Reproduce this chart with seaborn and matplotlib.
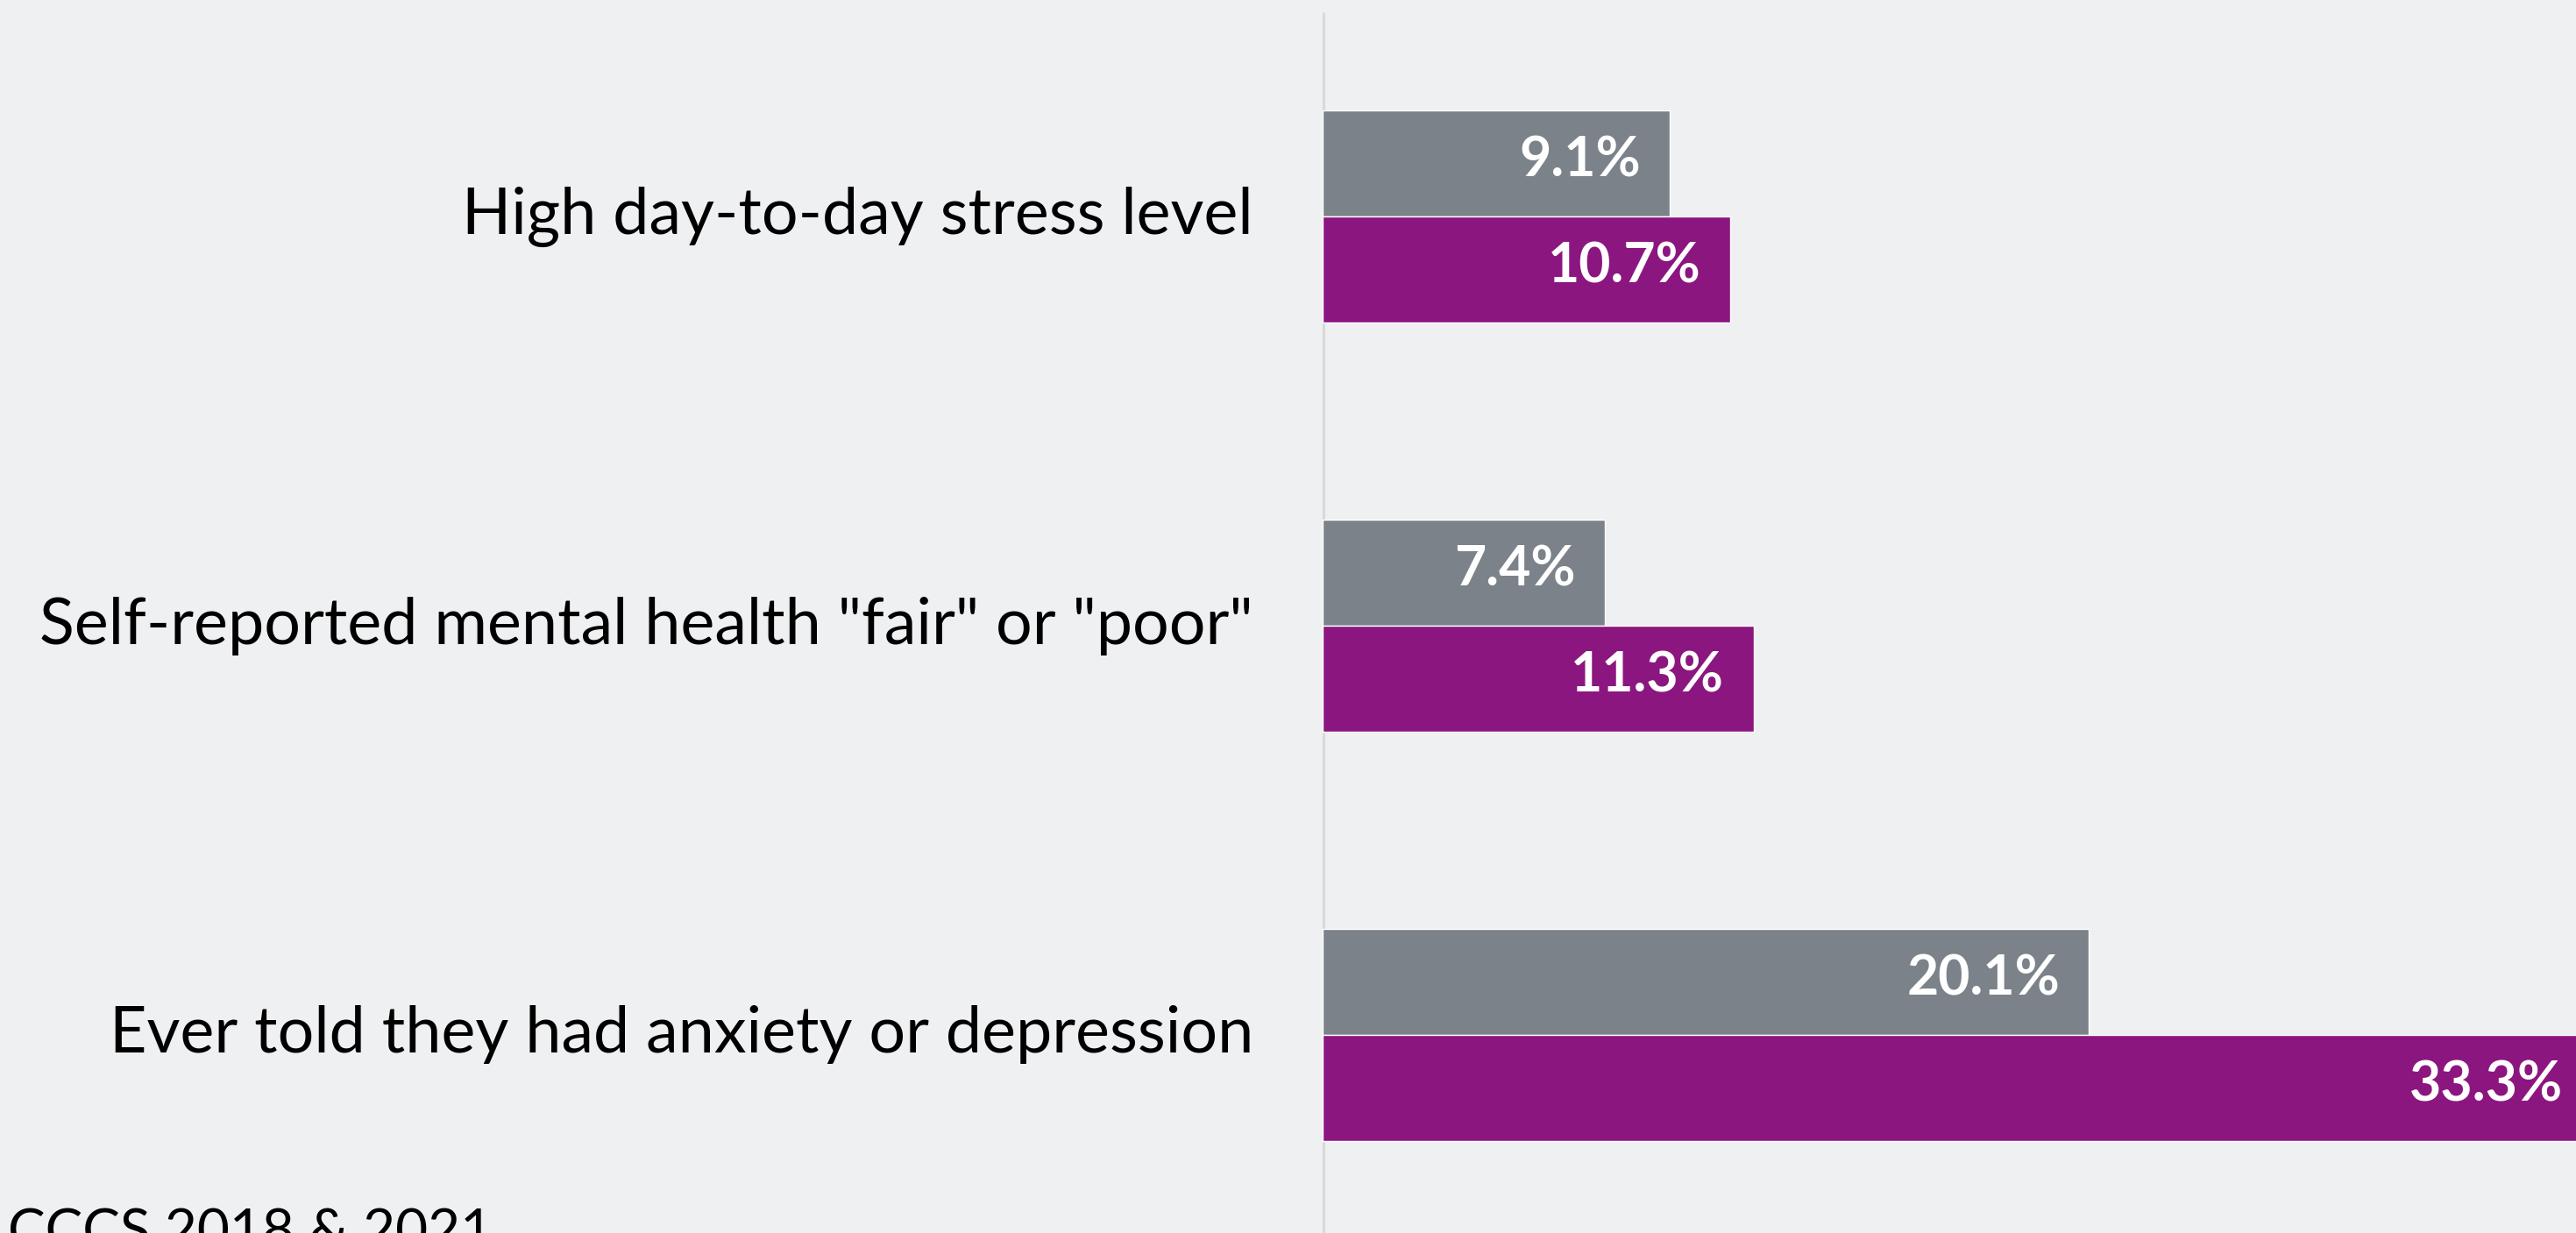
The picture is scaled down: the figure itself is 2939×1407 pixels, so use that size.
import pandas as pd
import matplotlib
matplotlib.use('Agg')
import matplotlib.pyplot as plt
import seaborn as sns

# ==========================================
# DADOS
# ==========================================

categorias = [
    'High day-to-day stress level',
    'Self-reported mental health "fair" or "poor"',
    'Ever told they had anxiety or depression',
]
anos = ['2018', '2021']
valores_2018 = [9.1, 7.4, 20.1]
valores_2021 = [10.7, 11.3, 33.3]
fonte = 'CCCS 2018 & 2021'

df = pd.DataFrame({
    'categoria': categorias * 2,
    'ano': [anos[0]] * 3 + [anos[1]] * 3,
    'valor': valores_2018 + valores_2021,
})

# ==========================================
# ESTILO
# ==========================================

sns.set_theme(style='white')
fundo = '#eff0f2'
cinza = '#7b828a'
roxo = '#8c1680'
plt.rcParams['font.family'] = ['Lato', 'DejaVu Sans']

fig = plt.figure(figsize=(29.39, 14.07), dpi=100, facecolor=fundo)
W, H = 2939, 1407
x0 = 1509
ax = fig.add_axes([x0 / W, 0, 1 - x0 / W, 1])
ax.set_facecolor(fundo)

# ==========================================
# GRAFICO
# ==========================================

sns.barplot(
    data=df, y='categoria', x='valor', hue='ano',
    order=categorias, hue_order=anos,
    palette=[cinza, roxo], orient='h', width=0.518,
    saturation=1, legend=False, ax=ax, zorder=3,
)

escala = 43.5  # px por ponto percentual
ax.set_xlim(0, (W - x0) / escala)
ax.set_ylim((H - 247) / 467, -247 / 467)

ax.axvline(0, ymin=0, ymax=1 - 16 / H, color='#d9d9d9', lw=3.6, zorder=1)

for cont in ax.containers:
    for barra in cont:
        v = barra.get_width()
        ax.annotate(
            f'{v:.1f}%',
            xy=(v, barra.get_y() + barra.get_height() / 2),
            xytext=(-24, 2), textcoords='offset points',
            ha='right', va='center', color='white',
            fontsize=45, fontweight='bold', zorder=5,
            annotation_clip=False,
        )

for i, c in enumerate(categorias):
    ax.text(
        -(x0 - 1430) / escala, i, c,
        ha='right', va='center', fontsize=53, color='black',
    )

ax.set_yticks([])
ax.set_xticks([])
ax.set_xlabel('')
ax.set_ylabel('')
sns.despine(ax=ax, left=True, bottom=True)

fig.text(9 / W, 1 - 1378 / H, fonte, ha='left', va='top',
         fontsize=46, color='black')

plt.savefig('out.png', dpi=100, facecolor=fundo)
